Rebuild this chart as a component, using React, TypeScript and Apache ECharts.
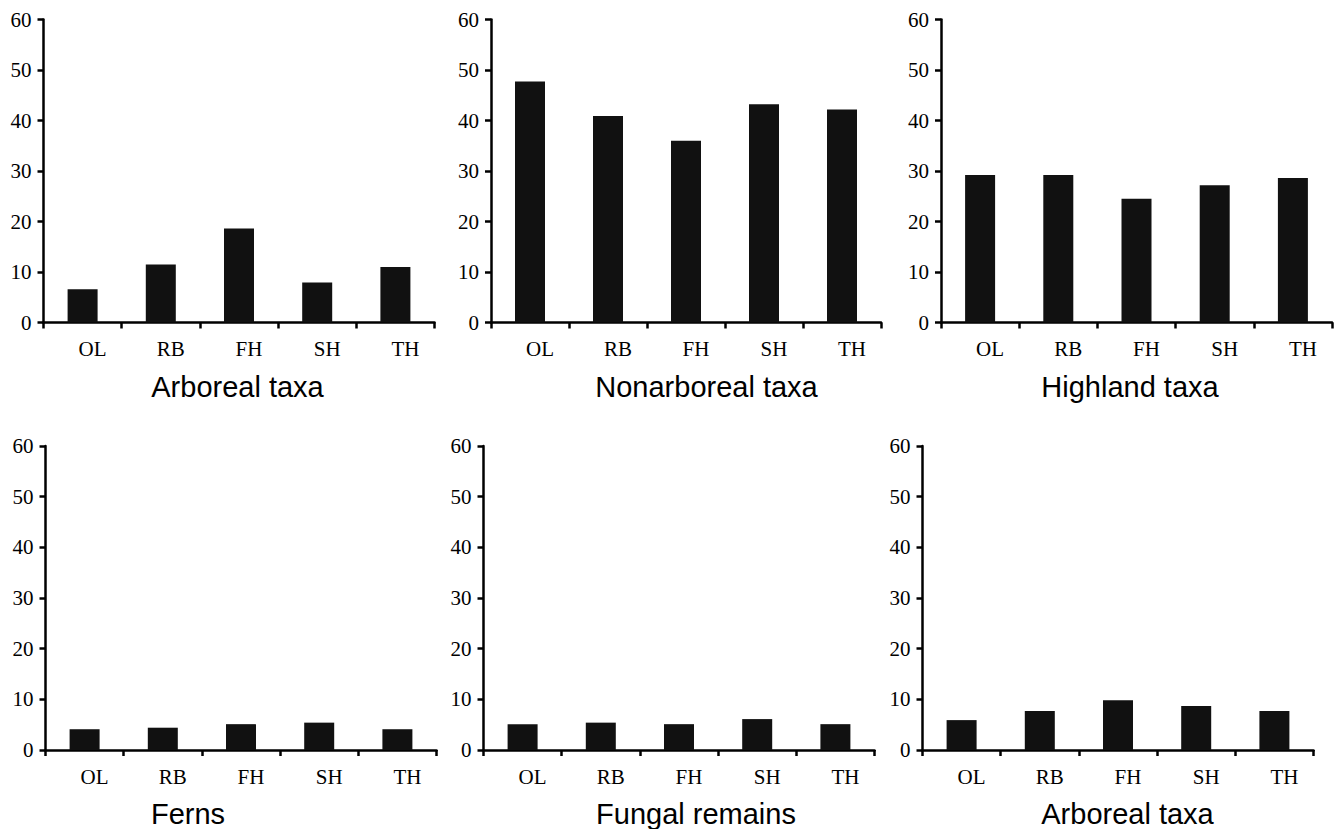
import React, { useEffect, useRef } from "react";
import * as echarts from "echarts";

const categories = ["OL", "RB", "FH", "SH", "TH"];
const arborealTaxa = [6.6, 11.5, 18.6, 7.9, 11.0];
const nonarborealTaxa = [47.7, 40.9, 36.0, 43.2, 42.2];
const highlandTaxa = [29.2, 29.2, 24.5, 27.2, 28.6];
const ferns = [4.1, 4.4, 5.1, 5.4, 4.1];
const fungalRemains = [5.1, 5.4, 5.1, 6.1, 5.1];
const arborealTaxa2 = [5.9, 7.7, 9.8, 8.7, 7.7];
const panelTitles = ["Arboreal taxa", "Nonarboreal taxa", "Highland taxa", "Ferns", "Fungal remains", "Arboreal taxa"];
const panelValues = [arborealTaxa, nonarborealTaxa, highlandTaxa, ferns, fungalRemains, arborealTaxa2];
const yTicks = { min: 0, max: 60, interval: 10 };

// layout: grid boxes [left, top, width, height] and title centers [x, y]
const grids = [
  [43.5, 19.5, 391, 303],
  [491, 19.5, 390, 303],
  [941, 19.5, 391, 303],
  [45.5, 446, 391, 304],
  [483.5, 446, 391, 304],
  [922.5, 446, 391, 304],
];
const titlePos = [
  [237.5, 387],
  [706.5, 387],
  [1130, 387],
  [188, 814],
  [696, 814],
  [1127.5, 814],
];

export default function App() {
  const ref = useRef<HTMLDivElement>(null);
  useEffect(() => {
    if (!ref.current) return;
    const chart = echarts.init(ref.current, null, { renderer: "svg" });
    const axisLine = { show: true, lineStyle: { color: "#000", width: 2.5 } };
    const option: any = {
      animation: false,
      backgroundColor: "#fff",
      grid: grids.map((g) => ({ left: g[0], top: g[1], width: g[2], height: g[3], containLabel: false })),
      xAxis: grids.map((_, i) => ({
        type: "category",
        gridIndex: i,
        data: categories,
        boundaryGap: true,
        axisLine,
        axisTick: { show: true, length: 6, lineStyle: { color: "#000", width: 2.5 } },
        axisLabel: {
          margin: 16,
          color: "#000",
          fontFamily: "Liberation Serif",
          fontSize: 21,
          padding: [0, 0, 0, 20],
        },
        splitLine: { show: false },
      })),
      yAxis: grids.map((_, i) => ({
        type: "value",
        gridIndex: i,
        min: yTicks.min,
        max: yTicks.max,
        interval: yTicks.interval,
        axisLine,
        axisTick: { show: true, length: 6, lineStyle: { color: "#000", width: 2.5 } },
        axisLabel: {
          margin: 12,
          color: "#000",
          fontFamily: "Liberation Serif",
          fontSize: 21,
        },
        splitLine: { show: false },
      })),
      series: panelValues.map((vals, i) => ({
        type: "bar",
        xAxisIndex: i,
        yAxisIndex: i,
        data: vals,
        barWidth: 30,
        itemStyle: { color: "#111" },
      })),
      graphic: panelTitles.map((t, i) => ({
        type: "text",
        x: titlePos[i][0],
        y: titlePos[i][1],
        style: {
          text: t,
          fill: "#000",
          fontFamily: "Liberation Sans",
          fontSize: 29,
          align: "center",
          verticalAlign: "middle",
        },
      })),
    };
    chart.setOption(option);
    return () => chart.dispose();
  }, []);
  return (
    <div
      ref={ref}
      style={{ position: "fixed", left: 0, top: 0, width: 1341, height: 829, background: "#fff" }}
    />
  );
}
